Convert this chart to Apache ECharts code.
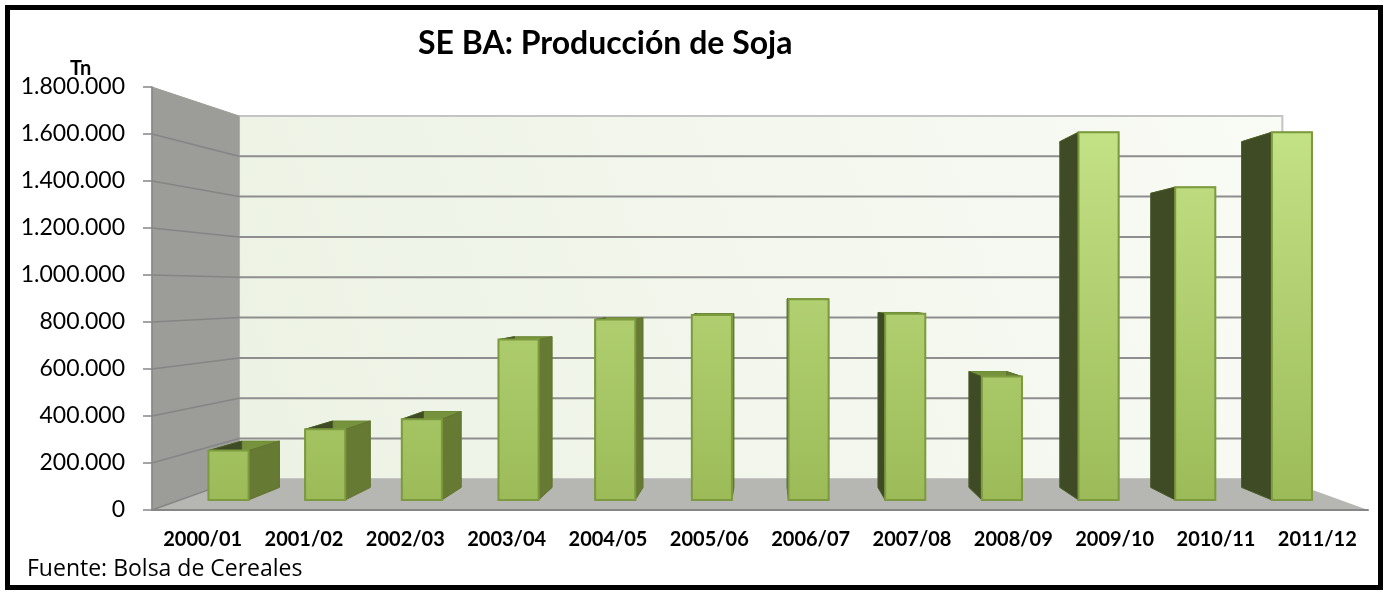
<!DOCTYPE html>
<html>
<head>
<meta charset="utf-8">
<script src="https://cdn.jsdelivr.net/npm/echarts@6/dist/echarts.min.js"></script>
<style>
html, body { margin: 0; padding: 0; background: #fff; }
#main { width: 1383px; height: 591px; }
</style>
</head>
<body>
<div id="main"></div>
<script>
// campañas y producción (toneladas)
var campaigns = ['2000/01', '2001/02', '2002/03', '2003/04', '2004/05', '2005/06',
                 '2006/07', '2007/08', '2008/09', '2009/10', '2010/11', '2011/12'];
var production = [220000, 315000, 360000, 715000, 805000, 825000,
                  895000, 830000, 550000, 1640000, 1395000, 1640000];
var yMax = 1800000;
var yStep = 200000;

// perspective settings (fraction of grid / depth scales)
var VP_X = 0.504, VP_Y = 0.482;
var WALL_S = 0.858, BAR_FRONT_S = 0.954, BAR_BACK_S = 0.897, BAR_W = 0.415;

function proj(p, s, vp) {
    return [vp[0] + s * (p[0] - vp[0]), vp[1] + s * (p[1] - vp[1])];
}
function vpOf(cs) {
    return [cs.x + VP_X * cs.width, cs.y + VP_Y * cs.height];
}
function fmt(v) {
    return String(v).replace(/\B(?=(\d{3})+(?!\d))/g, '.');
}

var myChart = echarts.init(document.getElementById('main'));

function renderWalls(params, api) {
    var cs = params.coordSys;
    var vp = vpOf(cs);
    var tl = [cs.x, cs.y], tr = [cs.x + cs.width, cs.y];
    var bl = [cs.x, cs.y + cs.height], br = [cs.x + cs.width, cs.y + cs.height];
    var btl = proj(tl, WALL_S, vp), btr = proj(tr, WALL_S, vp);
    var bbl = proj(bl, WALL_S, vp), bbr = proj(br, WALL_S, vp);
    var children = [];
    // back wall
    children.push({
        type: 'rect',
        shape: { x: btl[0], y: btl[1], width: btr[0] - btl[0], height: bbl[1] - btl[1] },
        style: {
            fill: new echarts.graphic.LinearGradient(0, 1, 1, 0, [
                { offset: 0, color: '#ECF2E4' },
                { offset: 1, color: '#F9FBF5' }
            ]),
            stroke: '#C4C4C4', lineWidth: 2
        }
    });
    // side wall
    children.push({
        type: 'polygon',
        shape: { points: [tl, btl, bbl, bl] },
        style: { fill: '#9C9D99', stroke: '#9C9D99', lineWidth: 1 }
    });
    // floor
    children.push({
        type: 'polygon',
        shape: { points: [bl, br, bbr, bbl] },
        style: { fill: '#B6B7B2' }
    });
    // gridlines
    for (var v = 0; v < yMax; v += yStep) {
        var y = api.coord([0, v])[1];
        var f = [cs.x, y];
        var b = proj(f, WALL_S, vp);
        var b2 = proj([cs.x + cs.width, y], WALL_S, vp);
        children.push({
            type: 'line',
            shape: { x1: f[0], y1: f[1], x2: b[0], y2: b[1] },
            style: { stroke: '#858585', lineWidth: 1.5 }
        });
        if (v > 0) {
            children.push({
                type: 'line',
                shape: { x1: b[0], y1: b[1], x2: b2[0], y2: b2[1] },
                style: { stroke: '#8E8E8E', lineWidth: 2 }
            });
        }
    }
    return { type: 'group', children: children, silent: true };
}

function renderBar(params, api) {
    var cs = params.coordSys;
    var vp = vpOf(cs);
    var i = api.value(0);
    var base = api.coord([i, 0]);
    var top = api.coord([i, api.value(1)]);
    var half = api.size([1, 0])[0] * BAR_W / 2;
    var x0 = base[0] - half, x1 = base[0] + half, yb = base[1], yt = top[1];
    var ftl = proj([x0, yt], BAR_FRONT_S, vp), ftr = proj([x1, yt], BAR_FRONT_S, vp);
    var fbl = proj([x0, yb], BAR_FRONT_S, vp), fbr = proj([x1, yb], BAR_FRONT_S, vp);
    var btl = proj([x0, yt], BAR_BACK_S, vp), btr = proj([x1, yt], BAR_BACK_S, vp);
    var bbl = proj([x0, yb], BAR_BACK_S, vp), bbr = proj([x1, yb], BAR_BACK_S, vp);
    var frontFill = new echarts.graphic.LinearGradient(0, cs.y, 0, cs.y + cs.height, [
        { offset: 0, color: '#C8E68B' },
        { offset: 1, color: '#9BBA57' }
    ], true);
    return {
        type: 'group',
        children: [
            { type: 'polygon', shape: { points: [ftl, ftr, btr, btl] },
              style: { fill: '#76923C', stroke: '#6E8A35', lineWidth: 1 } },
            { type: 'polygon', shape: { points: [ftr, btr, bbr, fbr] },
              style: { fill: '#677A34', stroke: '#61742F', lineWidth: 1 } },
            { type: 'polygon', shape: { points: [btl, ftl, fbl, bbl] },
              style: { fill: '#3E4B25', stroke: '#4A5A2A', lineWidth: 1 } },
            { type: 'rect', shape: { x: ftl[0], y: ftl[1], width: ftr[0] - ftl[0], height: fbl[1] - ftl[1] },
              style: { fill: frontFill, stroke: '#7C9A3E', lineWidth: 2 } }
        ]
    };
}

var option = {
    animation: false,
    title: {
        text: 'SE BA: Producción de Soja',
        left: 418,
        top: 28,
        padding: 0,
        textStyle: { fontFamily: 'Lato', fontWeight: 'bold', fontSize: 32, color: '#000' }
    },
    graphic: [
        { type: 'rect', shape: { x: 7.5, y: 7.5, width: 1373, height: 580 },
          style: { fill: null, stroke: '#000', lineWidth: 5 }, z: 100 },
        { type: 'text', left: 70, top: 59,
          style: { text: 'Tn', fontFamily: 'Lato', fontWeight: 'bold', fontSize: 20, fill: '#000' } },
        { type: 'text', left: 27, top: 558,
          style: { text: 'Fuente: Bolsa de Cereales', fontFamily: 'Open Sans', fontSize: 23, fill: '#000' } }
    ],
    grid: { left: 152, right: 15, top: 87, bottom: 81 },
    xAxis: {
        type: 'category',
        data: campaigns,
        z: 10,
        axisLine: { lineStyle: { color: '#868686', width: 2 } },
        axisTick: { length: 6, lineStyle: { color: '#868686', width: 1.5 } },
        axisLabel: { interval: 0, margin: 20, fontFamily: 'Lato', fontWeight: 'bold', fontSize: 20, color: '#000' }
    },
    yAxis: {
        type: 'value',
        min: 0,
        max: yMax,
        interval: yStep,
        z: 10,
        splitLine: { show: false },
        axisLine: { show: true, lineStyle: { color: '#868686', width: 1.5 } },
        axisTick: { show: true, length: 9, lineStyle: { color: '#868686', width: 1.5 } },
        axisLabel: { margin: 27, fontFamily: 'Lato', fontSize: 23, color: '#000', formatter: fmt }
    },
    series: [
        {
            type: 'custom',
            name: 'walls',
            z: 1,
            silent: true,
            renderItem: renderWalls,
            data: [[0, 0]]
        },
        {
            type: 'custom',
            name: 'Producción',
            z: 3,
            renderItem: renderBar,
            data: production.map(function (v, i) { return [i, v]; })
        }
    ]
};
myChart.setOption(option);
</script>
</body>
</html>
